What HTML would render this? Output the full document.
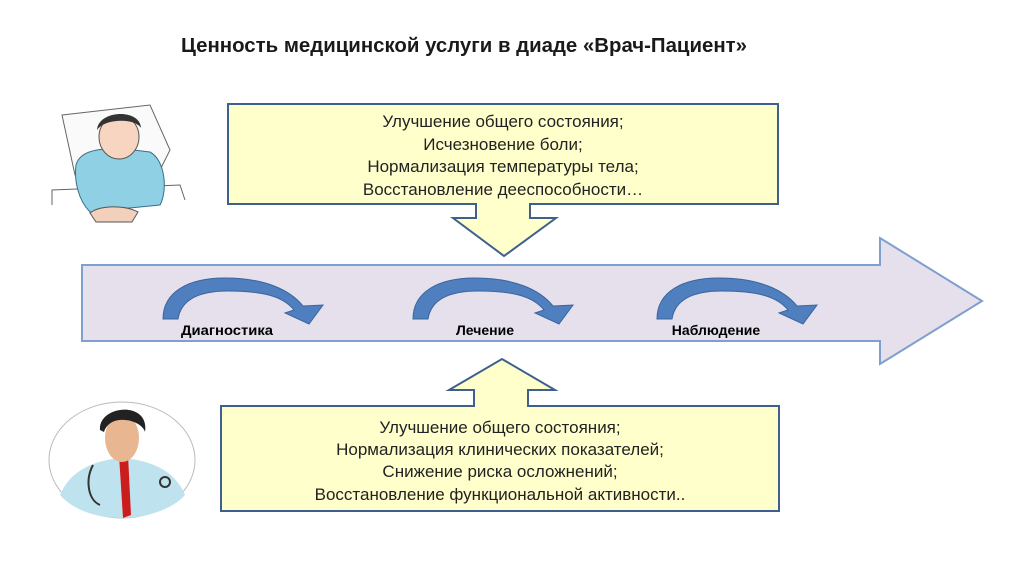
<!DOCTYPE html>
<html><head><meta charset="utf-8"><style>
body{margin:0;width:1024px;height:574px;background:#fff;overflow:hidden;font-family:"Liberation Sans","DejaVu Sans",sans-serif}
</style></head><body>
<svg width="1024" height="574" xmlns="http://www.w3.org/2000/svg" font-family="Liberation Sans, DejaVu Sans, sans-serif">
<text x="464" y="52" text-anchor="middle" font-size="20" font-weight="bold" fill="#1a1a1a" textLength="566" lengthAdjust="spacingAndGlyphs">Ценность медицинской услуги в диаде «Врач-Пациент»</text>
<polygon points="82,265 880,265 880,238 982,301 880,364 880,341 82,341" fill="#e6e0ec" stroke="#7f9fcf" stroke-width="2"/>
<g fill="#4f7fbf" stroke="#3a659f" stroke-width="1">
<path d="M163,319 C163,292 188,278 225,278 C265,278 290,290 303,306 L323,305 L309,324 L285,313 L294,310 C283,296 262,291 228,291 C198,291 181,300 178,319 Z"/>
<path transform="translate(250,0)" d="M163,319 C163,292 188,278 225,278 C265,278 290,290 303,306 L323,305 L309,324 L285,313 L294,310 C283,296 262,291 228,291 C198,291 181,300 178,319 Z"/>
<path transform="translate(494,0)" d="M163,319 C163,292 188,278 225,278 C265,278 290,290 303,306 L323,305 L309,324 L285,313 L294,310 C283,296 262,291 228,291 C198,291 181,300 178,319 Z"/>
</g>
<g font-size="14" font-weight="bold" fill="#000" text-anchor="middle">
<text x="227" y="335" textLength="92" lengthAdjust="spacingAndGlyphs">Диагностика</text>
<text x="485" y="335">Лечение</text>
<text x="716" y="335">Наблюдение</text>
</g>
<polygon points="476,203 530,203 530,218 556,218 504,256 453,218 476,218" fill="#ffffcc" stroke="#3f5f8f" stroke-width="2"/>
<rect x="228" y="104" width="550" height="100" fill="#ffffcc" stroke="#3f5f8f" stroke-width="2"/>
<rect x="477" y="202" width="52" height="4" fill="#ffffcc"/>
<g font-size="17" fill="#222" text-anchor="middle">
<text x="503" y="127">Улучшение общего состояния;</text>
<text x="503" y="150">Исчезновение боли;</text>
<text x="503" y="172">Нормализация температуры тела;</text>
<text x="503" y="195">Восстановление дееспособности…</text>
</g>
<polygon points="474,407 528,407 528,390 555,390 502,359 449,390 474,390" fill="#ffffcc" stroke="#3f5f8f" stroke-width="2"/>
<rect x="221" y="406" width="558" height="105" fill="#ffffcc" stroke="#3f5f8f" stroke-width="2"/>
<rect x="475" y="404" width="52" height="4" fill="#ffffcc"/>
<g font-size="17" fill="#222" text-anchor="middle">
<text x="500" y="433">Улучшение общего состояния;</text>
<text x="500" y="455">Нормализация клинических показателей;</text>
<text x="500" y="477">Снижение риска осложнений;</text>
<text x="500" y="500">Восстановление функциональной активности..</text>
</g>
<g>
<path d="M62,115 L150,105 L170,150 L160,170 L75,175 Z" fill="#fafafa" stroke="#666"/>
<path d="M52,205 L52,190 L180,185 L185,200" fill="none" stroke="#666"/>
<path d="M76,165 C80,150 100,145 150,152 C165,160 168,190 160,205 L90,212 C78,200 74,180 76,165Z" fill="#8fd0e4" stroke="#3a6f8a"/>
<ellipse cx="119" cy="137" rx="20" ry="22" fill="#f7d5c0" stroke="#555"/>
<path d="M97,130 C98,110 140,108 141,128 C135,118 105,118 97,130Z" fill="#333"/>
<path d="M90,213 C100,205 125,205 138,212 L132,222 L96,222Z" fill="#f3d0bb" stroke="#555"/>
</g>
<g>
<ellipse cx="122" cy="460" rx="73" ry="58" fill="#fff" stroke="#bbb"/>
<path d="M60,495 C70,470 95,460 122,458 C150,460 175,470 185,495 C170,512 140,518 122,518 C100,518 75,512 60,495Z" fill="#bfe3ee"/>
<path d="M119,455 L128,455 L131,515 L123,518Z" fill="#cc1d1d"/>
<ellipse cx="122" cy="438" rx="17" ry="24" fill="#e8b791"/>
<path d="M100,430 C98,405 150,400 145,432 C142,420 110,412 104,432Z" fill="#222"/>
<circle cx="165" cy="482" r="5" fill="none" stroke="#333" stroke-width="2"/>
<path d="M93,465 C85,480 88,500 100,505" fill="none" stroke="#333" stroke-width="2"/>
</g>
</svg>
</body></html>
